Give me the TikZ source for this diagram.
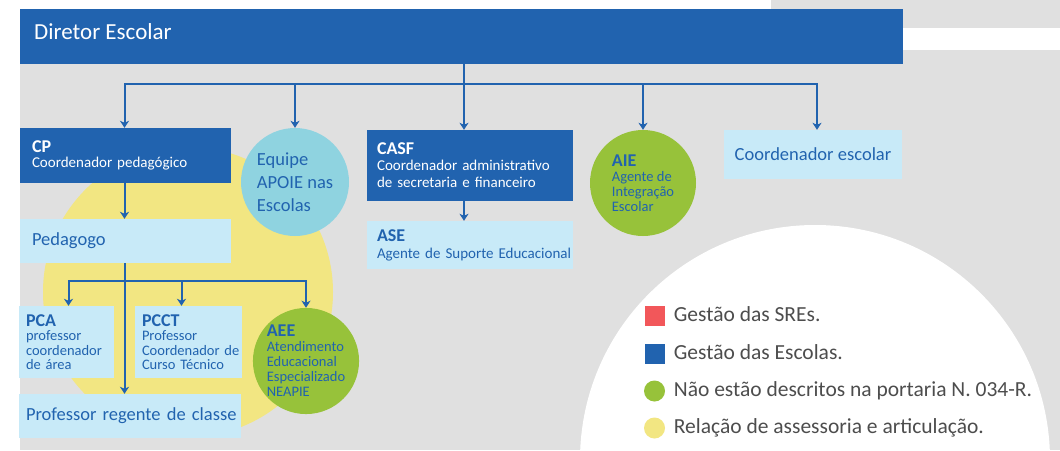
\documentclass[tikz,border=0pt]{standalone}
\usepackage{fontspec}
\setmainfont{Carlito}
\usetikzlibrary{positioning,calc,arrows.meta}
\definecolor{escblue}{HTML}{2163AF}
\definecolor{lightcyan}{HTML}{C8EAF8}
\definecolor{apoiecyan}{HTML}{8FD3E0}
\definecolor{leafgreen}{HTML}{97C23A}
\definecolor{softyellow}{HTML}{F2E682}
\definecolor{sregred}{HTML}{F2575A}
\definecolor{bggray}{HTML}{E0E0E0}
\definecolor{legendgray}{HTML}{4D4D4D}
\newcommand{\fs}[2]{\fontsize{#1}{#2}\selectfont}
\newcommand{\ttl}[1]{{\fs{18}{17}\bfseries #1}}

\tikzset{
  darkbox/.style={fill=escblue, text=white, align=left, inner sep=0pt, font=\fs{15}{17}},
  lightbox/.style={fill=lightcyan, text=escblue, align=left, inner sep=0pt, font=\fs{15}{17}},
  pad/.style={execute at begin node={\leftskip=#1\relax}},
  bubble/.style={circle, inner sep=0pt, minimum size=#1, text=escblue, align=left},
  conn/.style={draw=escblue, line width=2pt},
  arr/.style={conn, -{Stealth[length=7pt,width=9pt,inset=2pt]}},
  legsq/.style={minimum size=20pt, inner sep=0pt},
  legdot/.style={circle, minimum size=21pt, inner sep=0pt},
  legtext/.style={inner sep=0pt, text=legendgray, font=\fs{21.5}{24}, text height=14pt, text depth=4pt}
}

\begin{document}
\begin{tikzpicture}[x=1pt,y=-1pt]
\useasboundingbox (0,0) rectangle (1060,450);
\clip (0,0) rectangle (1060,450);
% background
\fill[bggray] (20,9) rectangle (1060,450);
\fill[bggray] (771,0) rectangle (1060,28);
\fill[white] (903,28) rectangle (1060,50);
\fill[white] (815,460) circle (235pt);
\fill[softyellow] (188,292) circle (145pt);

% director
\node[fill=escblue, minimum width=883pt, minimum height=55pt, inner sep=0pt] (dir) at (461.5,36.5) {};
\node[anchor=base west, inner sep=0pt, text=white, font=\fs{23}{27}] (dirtxt) at (34,39) {Diretor Escolar};

% second level
\node[darkbox, pad=12pt, text width=211pt, minimum height=55pt] (cp) at (125.5,155.5)
  {\ttl{CP}\\[-2pt]Coordenador pedagógico};
\node[bubble=108pt, fill=apoiecyan, font=\fs{18.5}{23}] (apoie) at (295,182) {Equipe\\APOIE nas\\Escolas};
\node[darkbox, pad=10pt, text width=206pt, minimum height=71pt] (casf) at (470,165.5)
  {\ttl{CASF}\\[-1pt]Coordenador administrativo\\de secretaria e financeiro};
\node[bubble=106pt, fill=leafgreen, font=\fs{14.5}{15}] (aie) at (643,183)
  {\ttl{AIE}\\Agente de\\Integração\\Escolar};
\node[lightbox, align=center, minimum width=178pt, minimum height=49pt, font=\fs{18.5}{22}] (cesc) at (813,154.5) {Coordenador escolar};

% third level
\node[lightbox, pad=12pt, text width=211pt, minimum height=44pt, font=\fs{18.5}{22}] (ped) at (125.5,241) {Pedagogo};
\node[lightbox, pad=10pt, text width=206pt, minimum height=48pt] (ase) at (470,245)
  {\ttl{ASE}\\Agente de Suporte Educacional};

% fourth level
\node[lightbox, pad=7pt, text width=95pt, minimum height=72pt, font=\fs{14.5}{14.5}] (pca) at (66.5,342)
  {\ttl{PCA}\\professor\\coordenador\\de área};
\node[lightbox, pad=7pt, text width=107pt, minimum height=72pt, font=\fs{14.5}{14.5}] (pcct) at (188.5,342)
  {\ttl{PCCT}\\Professor\\Coordenador de\\Curso Técnico};
\node[bubble=106pt, fill=leafgreen, font=\fs{14.5}{15}] (aee) at (306,361)
  {\ttl{AEE}\\Atendimento\\Educacional\\Especializado\\NEAPIE};
\node[lightbox, pad=7pt, text width=222pt, minimum height=44pt, font=\fs{18.5}{22}] (prof) at (130,416) {Professor regente de classe};

% connectors
\coordinate (hub) at (464,84);
\draw[conn] (dir.south -| hub) -- (hub);
\draw[arr] (hub) -| ([xshift=-1pt]cp.north);
\draw[arr] (hub) -| (apoie);
\draw[arr] (hub) -- (hub |- casf.north);
\draw[arr] (hub) -| ([xshift=4pt]cesc.north);
\draw[arr] (hub) -| (aie);
\draw[arr] ([xshift=-1pt]cp.south) -- ([xshift=-1pt]cp.south |- ped.north);
\draw[arr] ([xshift=-6pt]casf.south) -- ([xshift=-6pt]casf.south |- ase.north);
\coordinate (split) at ($(ped.south)+(-1,18)$);
\draw[arr] ([xshift=-1pt]ped.south) -- ([xshift=-1pt]ped.south |- prof.north);
\draw[arr] (split) -| ([xshift=2pt]pca.north);
\draw[arr] (split) -| ([xshift=-7pt]pcct.north);
\draw[arr] (split) -| (aee);

% legend
\node[legsq, fill=sregred] (lg1) at (654.5,316) {};
\node[legtext, right=9pt of lg1] (lg1t) {Gestão das SREs.};
\node[legsq, fill=escblue] (lg2) at (654.5,354) {};
\node[legtext, right=9pt of lg2] (lg2t) {Gestão das Escolas.};
\node[legdot, fill=leafgreen] (lg3) at (654.5,391) {};
\node[legtext, right=8.5pt of lg3] (lg3t) {Não estão descritos na portaria N. 034-R.};
\node[legdot, fill=softyellow] (lg4) at (654.5,428) {};
\node[legtext, right=8.5pt of lg4] (lg4t) {Relação de assessoria e articulação.};
\end{tikzpicture}
\end{document}
